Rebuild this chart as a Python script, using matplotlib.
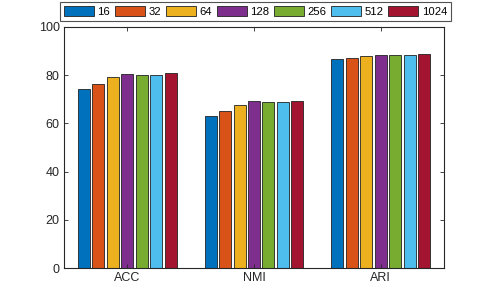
import matplotlib
matplotlib.use("Agg")
import matplotlib.pyplot as plt
import numpy as np

categories = ["ACC", "NMI", "ARI"]
series_labels = ["16", "32", "64", "128", "256", "512", "1024"]
values = {
    "16":   [74.1, 62.9, 86.6],
    "32":   [76.3, 65.1, 87.3],
    "64":   [79.4, 67.6, 88.0],
    "128":  [80.4, 69.4, 88.4],
    "256":  [80.1, 68.7, 88.2],
    "512":  [80.2, 68.7, 88.3],
    "1024": [81.0, 69.4, 88.7],
}
colors = ["#0072BD", "#D95319", "#EDB120", "#7E2F8E", "#77AC30", "#4DBEEE", "#A2142F"]
yticks = [0, 20, 40, 60, 80, 100]

plt.rcParams['font.family'] = ['Liberation Sans', 'DejaVu Sans']
fig = plt.figure(figsize=(4.91, 3.01), dpi=100)
ax = fig.add_axes([0.1303, 0.1096, 0.774, 0.801])

n = len(series_labels)
x = np.arange(1, len(categories) + 1)
groupwidth = min(0.8, n / (n + 1.5))
step = groupwidth / n
bw = step * 0.83
for i, lab in enumerate(series_labels):
    off = (i - (n - 1) / 2) * step
    ax.bar(x + off, values[lab], width=bw, color=colors[i], edgecolor="#222222",
           linewidth=0.6, label=lab)

ax.set_xlim(0.5, 3.5)
ax.set_ylim(0, 100)
ax.set_xticks(x)
ax.set_xticklabels(categories)
ax.set_yticks(yticks)
ax.tick_params(direction='in', top=True, right=True, length=3, width=0.6,
               labelsize=9, colors='#262626', pad=3)
for s in ax.spines.values():
    s.set_linewidth(0.8)
    s.set_color('#262626')

leg = fig.legend(loc='upper center', bbox_to_anchor=(0.5204, 0.993), ncol=n,
                 fontsize=8.1, frameon=True, fancybox=False, handlelength=2.65,
                 handleheight=1.0, handletextpad=0.3, columnspacing=0.45,
                 borderpad=0.35, borderaxespad=0)
leg.get_frame().set_edgecolor('#262626')
leg.get_frame().set_linewidth(0.8)

fig.savefig("out.png", dpi=100)
